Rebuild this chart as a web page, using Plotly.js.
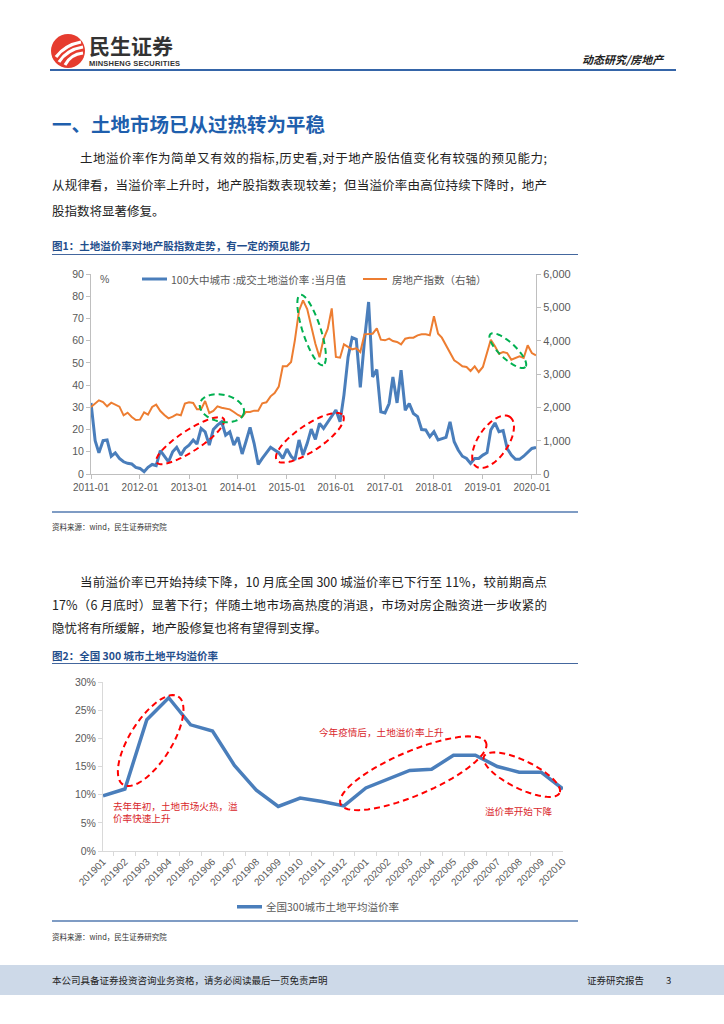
<!DOCTYPE html>
<html><head><meta charset="utf-8">
<script src="https://cdn.plot.ly/plotly-3.0.1.min.js"></script>
<style>
body{margin:0;background:#fff;}
#page{position:relative;width:724px;height:1024px;overflow:hidden;font-family:"Noto Sans CJK SC","Noto Sans",sans-serif;color:#222;}
.a{position:absolute;white-space:nowrap;}
.j{position:absolute;white-space:nowrap;text-align:justify;text-align-last:justify;}
.p{font-size:12.5px;line-height:16px;color:#222;}
.ft{font-size:10.5px;font-weight:bold;color:#1f4e8c;line-height:14px;}
.src{font-size:7.5px;color:#333;line-height:10px;}
.rule{position:absolute;height:0;}
</style></head>
<body><div id="page">
<!-- header -->
<svg class="a" style="left:50px;top:33px" width="36" height="36" viewBox="0 0 36 36">
  <circle cx="18" cy="18" r="17" fill="#e63c2f"/>
  <path d="M6 24 C 12 16, 20 11, 31 9" stroke="#fff" stroke-width="3.2" fill="none"/>
  <path d="M9 29 C 14 21, 21 16, 33 14" stroke="#fff" stroke-width="3.2" fill="none"/>
  <path d="M15 32 C 18 26, 24 21, 33 20" stroke="#fff" stroke-width="3" fill="none"/>
</svg>
<div class="a" style="left:89px;top:35px;font-size:21px;font-weight:bold;color:#333;line-height:21px">民生证券</div>
<div class="a" style="left:89px;top:60px;font-size:7.5px;font-weight:bold;color:#333;line-height:8px;letter-spacing:0.2px;font-family:'Liberation Sans',sans-serif">MINSHENG SECURITIES</div>
<div class="a" style="left:582px;top:52px;font-size:11px;font-weight:bold;font-style:italic;color:#222;line-height:14px">动态研究/房地产</div>
<div class="rule" style="left:50px;top:69px;width:626px;border-top:2.5px solid #3565a8"></div>

<div class="a" style="left:52px;top:111px;font-size:19.5px;font-weight:bold;color:#1f5fad;line-height:26px">一、土地市场已从过热转为平稳</div>

<div class="j p" style="left:80px;top:150px;width:467px">土地溢价率作为简单又有效的指标,历史看,对于地产股估值变化有较强的预见能力;</div>
<div class="j p" style="left:52px;top:177px;width:495px">从规律看，当溢价率上升时，地产股指数表现较差；但当溢价率由高位持续下降时，地产</div>
<div class="a p" style="left:52px;top:203px">股指数将显著修复。</div>

<div class="a ft" style="left:52px;top:239px">图1：土地溢价率对地产股指数走势，有一定的预见能力</div>
<div class="rule" style="left:52px;top:254px;width:526px;border-top:1.5px solid #44679e"></div>
<div id="c1" class="a" style="left:40px;top:258px;width:540px;height:247px"></div>
<div class="rule" style="left:52px;top:511px;width:526px;border-top:2px solid #7f9cc4"></div>
<div class="a src" style="left:52px;top:522px">资料来源：wind，民生证券研究院</div>

<div class="j p" style="left:80px;top:574px;width:467px">当前溢价率已开始持续下降，10 月底全国 300 城溢价率已下行至 11%，较前期高点</div>
<div class="j p" style="left:52px;top:597px;width:495px">17%（6 月底时）显著下行；伴随土地市场高热度的消退，市场对房企融资进一步收紧的</div>
<div class="a p" style="left:52px;top:620px">隐忧将有所缓解，地产股修复也将有望得到支撑。</div>

<div class="a ft" style="left:52px;top:649px">图2：全国 300 城市土地平均溢价率</div>
<div class="rule" style="left:52px;top:663px;width:526px;border-top:1.5px solid #44679e"></div>
<div id="c2" class="a" style="left:40px;top:668px;width:540px;height:250px"></div>
<div class="rule" style="left:52px;top:920px;width:526px;border-top:2px solid #7f9cc4"></div>
<div class="a src" style="left:52px;top:932px">资料来源：wind，民生证券研究院</div>

<div class="a" style="left:0;top:965px;width:724px;height:30px;background:#cdd9e8"></div>
<div class="a" style="left:52px;top:974px;font-size:9.5px;line-height:13px;color:#222">本公司具备证券投资咨询业务资格，请务必阅读最后一页免责声明</div>
<div class="a" style="left:587px;top:974px;font-size:9.5px;line-height:13px;color:#222">证券研究报告</div>
<div class="a" style="left:666px;top:974px;font-size:9.5px;line-height:13px;color:#222">3</div>
</div>
<script>
// ---------- Chart 1 data ----------
const startMonth = '2011-01';
const monthCount = 110;
const premiumRate = [
 32, 15, 9.5, 15, 15.3, 8, 9.5, 7, 5.5, 4.8, 4.5, 3,
 2.5, 1, 3, 4.3, 3.8, 10.5, 8, 5.5, 10, 12, 8.5, 11.5,
 13, 15.3, 13.5, 20.5, 19, 13, 20, 22, 23.5, 17.5, 19, 13,
 16.5, 9, 14.5, 21, 13.8, 4.3, 7, 9.6, 12, 10.8, 9.6, 7,
 11.2, 8, 6.3, 15.3, 8.5, 13.8, 20.2, 15.6, 22.8, 20.5, 23.5, 25.8,
 28.8, 23.5, 35.5, 52.7, 61.4, 60.6, 39, 60, 77.4, 43.7, 47, 28,
 27.5, 31.7, 43.7, 32, 46.7, 28.7, 31.7, 27.2, 25.8, 20, 19.8, 16.8,
 19, 15.3, 16, 16.5, 23.5, 14.5, 10.8, 8, 7, 4.8, 7, 7,
 8.5, 9.6, 19.8, 23, 19, 19.5, 11.5, 8.5, 6.6, 6.6, 8, 9.7,
 11.5, 12];
const propertyIndex = [
 2010, 2110, 2210, 2160, 2030, 2140, 2070, 2020, 1760, 1840, 1710, 1620,
 1630, 1850, 1780, 2010, 2080, 1890, 1770, 1670, 1720, 1790, 1760, 2110,
 2150, 2130, 1940, 1940, 2190, 1830, 1890, 2030, 1990, 1960, 1940, 1860,
 1770, 1710, 1860, 1860, 1900, 1900, 2120, 2150, 2330, 2430, 2620, 3230,
 3235, 3360, 4010, 4900, 5210, 4950, 4410, 3910, 3500, 4050, 4350, 4970,
 3510, 3490, 3890, 3800, 3740, 3770, 3660, 4190, 4190, 4210, 4370, 4030,
 4010, 4060, 3990, 3960, 3890, 4060, 4090, 4090, 4160, 4190, 4190, 4160,
 4730, 4210, 4090, 3860, 3660, 3410, 3330, 3230, 3210, 3090, 3230, 3060,
 3210, 3610, 4030, 3830, 3610, 3660, 3630, 3430, 3490, 3530, 3480, 3860,
 3630, 3560];
const seriesNames1 = ['100大中城市 :成交土地溢价率 :当月值', '房地产指数（右轴）'];

// ---------- Chart 2 data ----------
const months2 = ['201901','201902','201903','201904','201905','201906','201907','201908','201909','201910','201911','201912',
 '202001','202002','202003','202004','202005','202006','202007','202008','202009','202010'];
const avgPremium = [9.8, 11.0, 23.3, 27.2, 22.4, 21.3, 15.2, 10.8, 7.9, 9.4, 8.8, 8.0,
 11.2, 12.7, 14.3, 14.5, 17.0, 17.0, 15.0, 14.0, 14.0, 11.0];
const seriesName2 = '全国300城市土地平均溢价率';
const notes2 = ['去年年初，土地市场火热，溢<br>价率快速上升', '今年疫情后，土地溢价率上升', '溢价率开始下降'];

// month labels
const dates1 = [];
{ let y = +startMonth.slice(0,4), m = +startMonth.slice(5,7);
  for (let i = 0; i < monthCount; i++) { dates1.push(y + '-' + String(m).padStart(2,'0') + '-01'); m++; if (m > 12) { m = 1; y++; } } }

const BLUE = '#4a7ebb', ORANGE = '#ed7d31', GRAY = '#595959', AX = '#bfbfbf';
const numFont = {family: 'Liberation Sans, Arial, sans-serif', size: 10.5, color: GRAY};
const cjkFont = {family: 'Noto Sans CJK SC, sans-serif', size: 10.5, color: GRAY};

function ellipse(cx, cy, a, b, deg, W, H, color) {
  const th = deg * Math.PI / 180; let d = '';
  for (let k = 0; k <= 72; k++) {
    const t = 2 * Math.PI * k / 72;
    const dx = a * Math.cos(t) * Math.cos(th) - b * Math.sin(t) * Math.sin(th);
    const dy = a * Math.cos(t) * Math.sin(th) + b * Math.sin(t) * Math.cos(th);
    d += (k ? ' L ' : 'M ') + (cx + dx / W).toFixed(5) + ' ' + (cy - dy / H).toFixed(5);
  }
  return {type: 'path', xref: 'paper', yref: 'paper', path: d + ' Z',
          line: {color: color, width: 2, dash: '6px,4px'}};
}
function legendKey(k, y, font) {
  return {
    shape: {type: 'line', xref: 'paper', yref: 'paper', x0: k.x0, x1: k.x1, y0: y, y1: y,
            line: {color: k.color, width: k.width}},
    ann: {xref: 'paper', yref: 'paper', x: k.tx, y: y, xanchor: 'left', yanchor: 'middle',
          text: k.name, showarrow: false, font: font}
  };
}

// Chart 1
const C1W = 540, C1H = 247, M1 = {l: 51, r: 44, t: 16, b: 31};
const x0 = dates1[0], x1 = dates1[dates1.length - 1];
const W1 = C1W - M1.l - M1.r, H1 = C1H - M1.t - M1.b;
const px1 = d => (Date.parse(d) - Date.parse(x0)) / (Date.parse(x1) - Date.parse(x0));
const py1 = v => v / 90;
const ell1 = [
  ['2013-01-10', 15.0, 40, 10.5, -33, '#ff0000'],
  ['2015-06-21', 16.3, 40, 13, -34, '#ff0000'],
  ['2019-03-18', 14.5, 30, 15, -56, '#ff0000'],
  ['2013-09-03', 29.6, 22.5, 13.5, 12, '#00b050'],
  ['2015-07-04', 64.8, 37, 9, 72, '#00b050'],
  ['2019-07-06', 55.5, 24, 8, 43, '#00b050']
];
const legY1 = 0.975;
const keys1 = [
  {x0: 0.1146, x1: 0.1708, tx: 0.1753, color: BLUE, width: 3, name: seriesNames1[0]},
  {x0: 0.6112, x1: 0.6652, tx: 0.6719, color: ORANGE, width: 2, name: seriesNames1[1]}
].map(k => legendKey(k, legY1, cjkFont));
const shapes1 = ell1.map(e => ellipse(px1(e[0]), py1(e[1]), e[2], e[3], e[4], W1, H1, e[5]))
  .concat(keys1.map(k => k.shape));
const ann1 = [{xref: 'paper', yref: 'paper', x: 0.016, y: legY1, xanchor: 'left', yanchor: 'middle',
               text: '%', showarrow: false, font: numFont}].concat(keys1.map(k => k.ann));
Plotly.newPlot('c1', [
  {x: dates1, y: propertyIndex, name: seriesNames1[1], type: 'scatter', mode: 'lines', yaxis: 'y2',
   line: {color: ORANGE, width: 2}},
  {x: dates1, y: premiumRate, name: seriesNames1[0], type: 'scatter', mode: 'lines',
   line: {color: BLUE, width: 3}}
], {
  width: C1W, height: C1H, margin: M1,
  paper_bgcolor: 'rgba(0,0,0,0)', plot_bgcolor: 'rgba(0,0,0,0)',
  showlegend: false,
  xaxis: {type: 'date', range: [x0, x1], tick0: '2011-01-01', dtick: 'M12', tickformat: '%Y-%m',
          showgrid: false, zeroline: false, showline: true, linecolor: AX, linewidth: 1, automargin: false,
          ticks: 'outside', ticklen: 4, tickcolor: AX, tickfont: {family: numFont.family, size: 10, color: GRAY}},
  yaxis: {range: [0, 90], dtick: 10, showgrid: false, zeroline: false, showline: true, linecolor: AX, automargin: false,
          ticks: 'outside', ticklen: 4, tickcolor: AX, tickfont: numFont},
  yaxis2: {range: [0, 6000], dtick: 1000, overlaying: 'y', side: 'right', tickformat: ',', automargin: false,
           showgrid: false, zeroline: false, showline: true, linecolor: AX,
           ticks: 'outside', ticklen: 4, tickcolor: AX, tickfont: {family: numFont.family, size: 11, color: GRAY}},
  annotations: ann1,
  shapes: shapes1
}, {staticPlot: true, displayModeBar: false});

// Chart 2
const C2W = 540, C2H = 250, M2 = {l: 63, r: 17, t: 14, b: 67};
const W2 = C2W - M2.l - M2.r, H2 = C2H - M2.t - M2.b;
const n2 = months2.length;
const px2 = i => (i + 0.5) / n2;
const py2 = v => v / 30;
const ell2 = [
  [1.78, 19.6, 52, 21, -58],
  [14.34, 13.8, 79, 22, -23],
  [19.53, 13.55, 42, 14, 26]
];
const RED_T = '#d9262b';
const noteFont = {family: 'Noto Sans CJK SC, sans-serif', size: 9.6, color: RED_T};
const key2 = legendKey({x0: 0.2913, x1: 0.3457, tx: 0.35, color: BLUE, width: 3.5, name: seriesName2}, -0.33, cjkFont);
Plotly.newPlot('c2', [
  {x: months2, y: avgPremium.map(v => v / 100), name: seriesName2, type: 'scatter', mode: 'lines',
   line: {color: BLUE, width: 3.5}}
], {
  width: C2W, height: C2H, margin: M2,
  paper_bgcolor: 'rgba(0,0,0,0)', plot_bgcolor: 'rgba(0,0,0,0)',
  showlegend: false,
  xaxis: {type: 'category', showgrid: false, zeroline: false, showline: true, linecolor: '#d9d9d9', automargin: false,
          ticks: 'outside', tickson: 'boundaries', ticklen: 4, tickcolor: '#d9d9d9', tickangle: -45,
          tickfont: {family: numFont.family, size: 10, color: GRAY}},
  yaxis: {range: [0, 0.30], dtick: 0.05, tickformat: '.0%', showgrid: false, zeroline: false, automargin: false,
          showline: true, linecolor: '#d9d9d9', ticks: 'outside', ticklen: 4, tickcolor: '#d9d9d9',
          tickfont: numFont},
  annotations: [
    {x: 0.35, y: 0.069, xref: 'x', yref: 'y', xanchor: 'left', yanchor: 'middle', align: 'left',
     text: notes2[0], showarrow: false, font: noteFont},
    {x: 9.78, y: 0.212, xref: 'x', yref: 'y', xanchor: 'left', yanchor: 'middle',
     text: notes2[1], showarrow: false, font: noteFont},
    {x: 17.37, y: 0.0706, xref: 'x', yref: 'y', xanchor: 'left', yanchor: 'middle',
     text: notes2[2], showarrow: false, font: noteFont},
    key2.ann
  ],
  shapes: ell2.map(e => ellipse(px2(e[0]), py2(e[1]), e[2], e[3], e[4], W2, H2, '#ff0000')).concat([key2.shape])
}, {staticPlot: true, displayModeBar: false});
</script>
</body></html>
